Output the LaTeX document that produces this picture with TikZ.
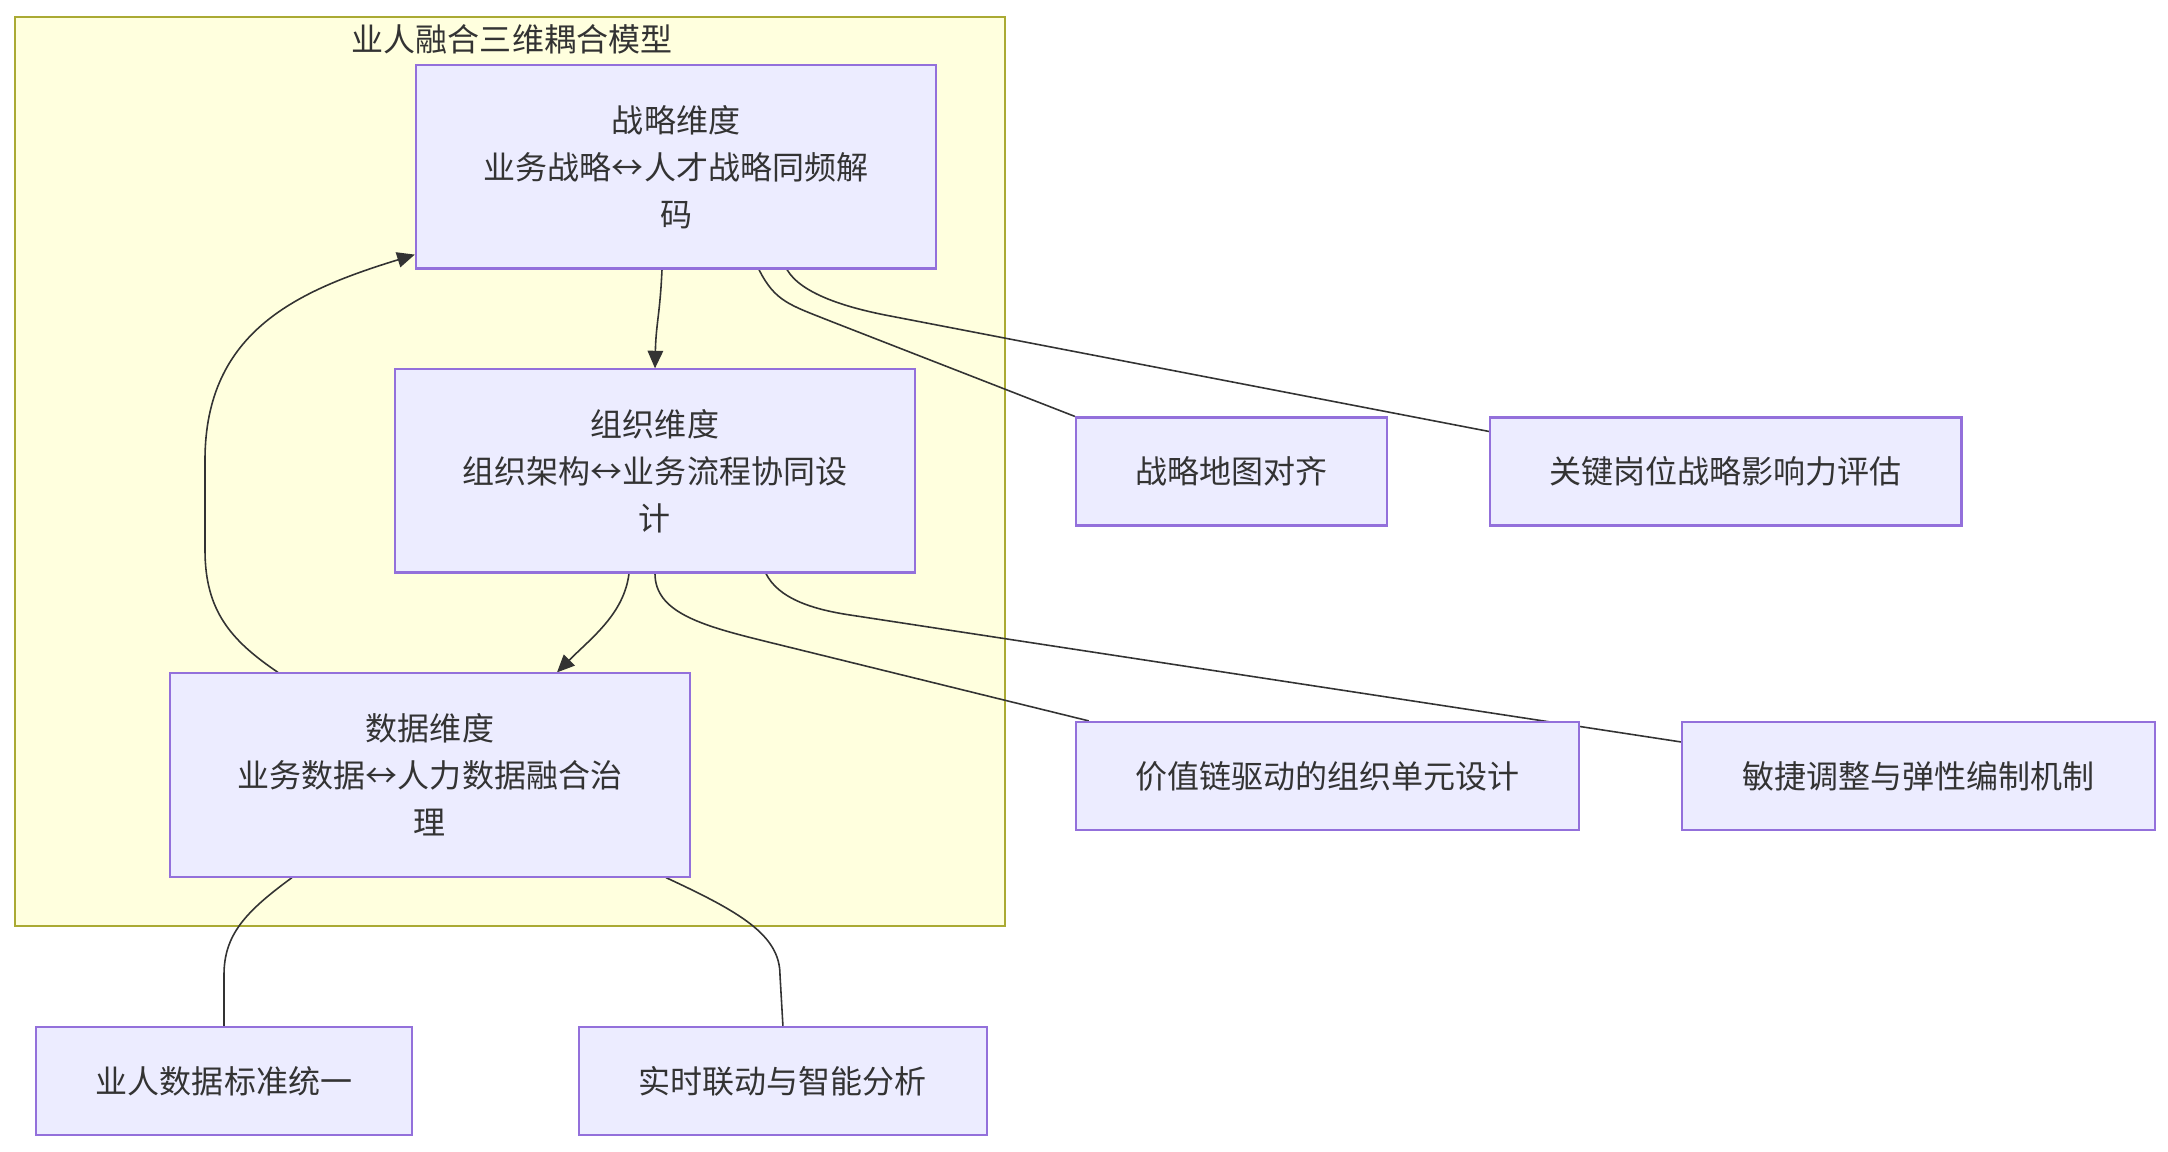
\documentclass[tikz,border=0pt]{standalone}
\usepackage{fontspec}
\setmainfont{Noto Sans CJK SC}
\usetikzlibrary{arrows.meta,positioning,calc}
\definecolor{boxfill}{HTML}{ECECFF}
\definecolor{boxline}{HTML}{9370DB}
\definecolor{grpfill}{HTML}{FFFFDE}
\definecolor{grpline}{HTML}{AAAA33}
\definecolor{ink}{HTML}{333333}
\pgfdeclarelayer{bg}
\pgfdeclarelayer{edges}
\pgfsetlayers{bg,edges,main}

\begin{document}
\begin{tikzpicture}[
    x=0.01cm, y=-0.01cm,
    >={Triangle[length=5pt,width=4.4pt]},
    node distance=1.01cm,
    dim/.style={draw=boxline, fill=boxfill, line width=0.6pt,
        minimum width=5.2cm, minimum height=2.03cm,
        align=center, inner sep=0pt,
        font=\fontsize{9.1}{13.3}\selectfont, text=ink},
    leaf/.style={dim, minimum height=1.08cm},
    grp/.style={draw=grpline, fill=grpfill, line width=0.6pt,
        minimum width=9.9cm, minimum height=9.09cm},
    grplbl/.style={font=\fontsize{9.1}{13.3}\selectfont, text=ink},
    link/.style={draw=ink, line width=0.45pt}
]
\useasboundingbox (0,0) rectangle (2168,1152);

% group frame
\begin{pgfonlayer}{bg}
\node[grp] (G) at (510,471.5) {};
\end{pgfonlayer}
\node[grplbl] (T) at (512,39) {业人融合三维耦合模型};

% three dimensions
\node[dim] (S) at (676,167) {战略维度\\业务战略↔人才战略同频解\\码};
\node[dim] (O) at (655,471) {组织维度\\组织架构↔业务流程协同设\\计};
\node[dim] (D) at (430,775) {数据维度\\业务数据↔人力数据融合治\\理};

% leaves
\node[leaf, minimum width=3.11cm] (A1) at (1231.5,471.5) {战略地图对齐};
\node[leaf, minimum width=4.71cm, right=of A1] (A2) {关键岗位战略影响力评估};
\node[leaf, minimum width=5.03cm] (B1) at (1327.5,776) {价值链驱动的组织单元设计};
\node[leaf, minimum width=4.72cm, right=of B1] (B2) {敏捷调整与弹性编制机制};
\node[leaf, minimum width=3.76cm] (C1) at (224,1081) {业人数据标准统一};
\node[leaf, minimum width=4.07cm, right=1.65cm of C1] (C2) {实时联动与智能分析};

\begin{pgfonlayer}{edges}
% loop between dimensions
\draw[link,->] ($(S.south)+(-14,0)$) .. controls +(-2,45) and +(1,-45) .. (O.north);
\draw[link,->] ($(O.south)+(-26,0)$) .. controls +(-5,40) and +(35,-35) .. ($(D.north)+(127,0)$);
\draw[link,->] ($(D.north)+(-152,0)$) .. controls (230,640) and (205,610) .. (205,550)
    -- (205,460) .. controls (205,330) and (300,290) .. ($(S.south west)+(0,-15)$);

% strategy
\draw[link] ($(S.south)+(83,0)$) .. controls +(16,32) and (790,305) .. (830,321) -- (A1.north west);
\draw[link] ($(S.south)+(111,0)$) .. controls +(14,24) and (845,307) .. (885,315) -- ($(A2.west)+(0,-40)$);

% organisation
\draw[link] (O.south) .. controls +(0,38) and (700,625) .. (760,640) -- ($(B1.north west)+(14,0)$);
\draw[link] ($(O.south)+(111,0)$) .. controls +(12,24) and (810,609) .. (850,615) -- ($(B2.west)+(0,-34)$);

% data
\draw[link] ($(D.south)+(-138,0)$) .. controls (245,912) and (224,935) .. (224,975) -- (C1.north);
\draw[link] ($(D.south)+(236,0)$) .. controls (740,912) and (780,935) .. (780,975) -- (C2.north);
\end{pgfonlayer}
\end{tikzpicture}
\end{document}
